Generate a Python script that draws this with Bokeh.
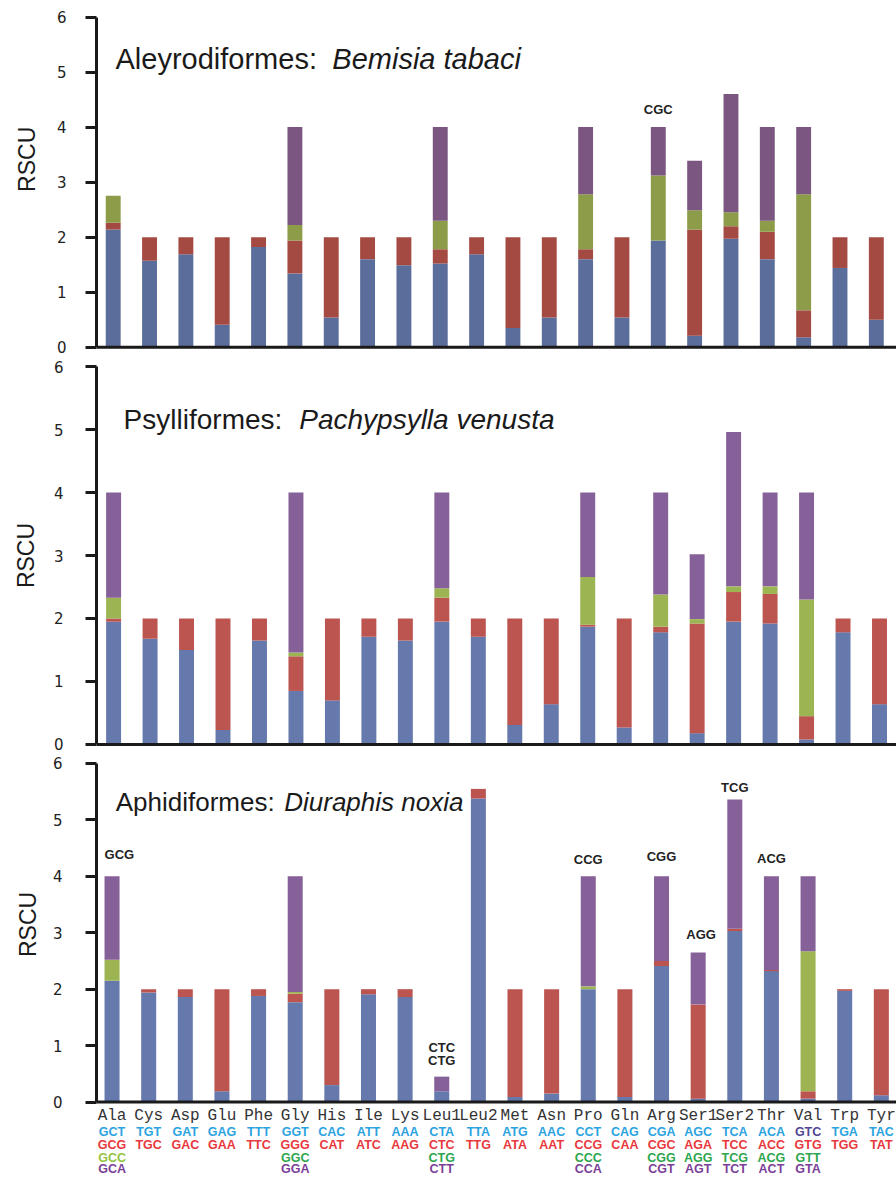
import numpy as np
from bokeh.plotting import figure
from bokeh.layouts import column
from bokeh.models import Range1d, FixedTicker, Span, ColumnDataSource
from bokeh.core.properties import value
from bokeh.embed import file_html
from bokeh.resources import INLINE

# ---------------- data ----------------
amino = ["Ala", "Cys", "Asp", "Glu", "Phe", "Gly", "His", "Ile", "Lys", "Leu1", "Leu2",
         "Met", "Asn", "Pro", "Gln", "Arg", "Ser1", "Ser2", "Thr", "Val", "Trp", "Tyr"]

codon_row1 = ["GCT", "TGT", "GAT", "GAG", "TTT", "GGT", "CAC", "ATT", "AAA", "CTA", "TTA",
              "ATG", "AAC", "CCT", "CAG", "CGA", "AGC", "TCA", "ACA", "GTC", "TGA", "TAC"]
codon_row2 = ["GCG", "TGC", "GAC", "GAA", "TTC", "GGG", "CAT", "ATC", "AAG", "CTC", "TTG",
              "ATA", "AAT", "CCG", "CAA", "CGC", "AGA", "TCC", "ACC", "GTG", "TGG", "TAT"]
codon_row3 = ["GCC", "", "", "", "", "GGC", "", "", "", "CTG", "",
              "", "", "CCC", "", "CGG", "AGG", "TCG", "ACG", "GTT", "", ""]
codon_row4 = ["GCA", "", "", "", "", "GGA", "", "", "", "CTT", "",
              "", "", "CCA", "", "CGT", "AGT", "TCT", "ACT", "GTA", "", ""]

# Aleyrodiformes: Bemisia tabaci  (codon 1..4 of each amino acid)
bt_c1 = [2.14, 1.57, 1.69, 0.41, 1.82, 1.34, 0.54, 1.60, 1.49, 1.52, 1.69,
         0.35, 0.54, 1.60, 0.54, 1.94, 0.21, 1.97, 1.60, 0.18, 1.44, 0.50]
bt_c2 = [0.12, 0.43, 0.31, 1.59, 0.18, 0.60, 1.46, 0.40, 0.51, 0.26, 0.31,
         1.65, 1.46, 0.18, 1.46, 0.00, 1.93, 0.23, 0.50, 0.49, 0.56, 1.50]
bt_c3 = [0.49, 0, 0, 0, 0, 0.28, 0, 0, 0, 0.52, 0,
         0, 0, 1.00, 0, 1.18, 0.35, 0.25, 0.20, 2.11, 0, 0]
bt_c4 = [0, 0, 0, 0, 0, 1.78, 0, 0, 0, 1.70, 0,
         0, 0, 1.22, 0, 0.88, 0.90, 2.15, 1.70, 1.22, 0, 0]

# Psylliformes: Pachypsylla venusta
pv_c1 = [1.95, 1.68, 1.50, 0.23, 1.65, 0.85, 0.70, 1.71, 1.65, 1.95, 1.71,
         0.31, 0.64, 1.87, 0.27, 1.78, 0.18, 1.95, 1.92, 0.08, 1.78, 0.64]
pv_c2 = [0.05, 0.32, 0.50, 1.77, 0.35, 0.55, 1.30, 0.29, 0.35, 0.38, 0.29,
         1.69, 1.36, 0.03, 1.73, 0.09, 1.74, 0.47, 0.47, 0.37, 0.22, 1.36]
pv_c3 = [0.33, 0, 0, 0, 0, 0.06, 0, 0, 0, 0.15, 0,
         0, 0, 0.76, 0, 0.51, 0.07, 0.09, 0.12, 1.85, 0, 0]
pv_c4 = [1.67, 0, 0, 0, 0, 2.54, 0, 0, 0, 1.52, 0,
         0, 0, 1.34, 0, 1.62, 1.03, 2.45, 1.49, 1.70, 0, 0]

# Aphidiformes: Diuraphis noxia
dn_c1 = [2.15, 1.94, 1.86, 0.19, 1.88, 1.77, 0.30, 1.91, 1.86, 0.19, 5.38,
         0.09, 0.15, 2.00, 0.09, 2.41, 0.06, 3.03, 2.32, 0.06, 1.97, 0.12]
dn_c2 = [0.00, 0.06, 0.14, 1.81, 0.12, 0.15, 1.70, 0.09, 0.14, 0.00, 0.17,
         1.91, 1.85, 0.00, 1.91, 0.09, 1.67, 0.04, 0.02, 0.13, 0.03, 1.88]
dn_c3 = [0.37, 0, 0, 0, 0, 0.03, 0, 0, 0, 0, 0,
         0, 0, 0.05, 0, 0, 0, 0, 0, 2.48, 0, 0]
dn_c4 = [1.48, 0, 0, 0, 0, 2.05, 0, 0, 0, 0.26, 0,
         0, 0, 1.95, 0, 1.50, 0.92, 2.29, 1.66, 1.33, 0, 0]

# absent-codon notes
bt_notes = ["CGC"]
bt_note_aa = ["Arg"]
bt_note_y = [4.19]
dn_notes = ["GCG", "CTC", "CTG", "CCG", "CGG", "AGG", "TCG", "ACG"]
dn_note_aa = ["Ala", "Leu1", "Leu1", "Pro", "Arg", "Ser1", "Ser2", "Thr"]
dn_note_y = [4.26, 0.84, 0.61, 4.16, 4.22, 2.83, 5.44, 4.19]

# ---------------- styling ----------------
W = 896
dark_cols = ["#5B6D9A", "#A54A43", "#8C9C48", "#7A5681"]
light_cols = ["#6679AD", "#BC5450", "#9CB452", "#866199"]
AXIS_COL = "#1a1a1a"
TXT_COL = "#1a1a1a"
NB = "\u00a0"

xs = list(range(len(amino)))


def make_panel(c1, c2, c3, c4, cols, height, left, xr, yr, tick_standoff,
               tnorm, tital, tpos, tsize, rscu_pad, rscu_standoff,
               notes=None, note_aa=None, note_y=None, note_dx=None):
    p = figure(width=W, height=height, output_backend="svg", toolbar_location=None,
               title=None, x_axis_location=None, y_axis_location="left",
               x_range=Range1d(*xr), y_range=Range1d(*yr),
               min_border_left=left, min_border_right=0,
               min_border_top=0, min_border_bottom=0)
    p.outline_line_color = None
    p.grid.visible = False
    p.background_fill_color = "white"
    p.border_fill_color = "white"

    src = ColumnDataSource(dict(x=xs, c1=c1, c2=c2, c3=c3, c4=c4))
    p.vbar_stack(["c1", "c2", "c3", "c4"], x="x", width=0.41, source=src,
                 fill_color=cols, line_color=None)

    ax = p.yaxis[0]
    ax.ticker = FixedTicker(ticks=[0, 1, 2, 3, 4, 5, 6])
    ax.bounds = (0, 6)
    ax.axis_line_width = 3
    ax.axis_line_color = AXIS_COL
    ax.major_tick_line_width = 3
    ax.major_tick_line_color = AXIS_COL
    ax.major_tick_out = 11
    ax.major_tick_in = 0
    ax.minor_tick_out = 0
    ax.minor_tick_in = 0
    ax.major_label_standoff = tick_standoff
    ax.major_label_text_font = "DejaVu Sans"
    ax.major_label_text_font_size = "15px"
    ax.major_label_text_color = "#222222"
    ax.axis_label = NB * rscu_pad + "RSCU"
    ax.axis_label_text_font = "Liberation Sans"
    ax.axis_label_text_font_size = "23px"
    ax.axis_label_text_font_style = "normal"
    ax.axis_label_text_color = TXT_COL
    ax.axis_label_standoff = rscu_standoff

    p.add_layout(Span(location=0, dimension="width", line_color=AXIS_COL, line_width=3))

    # title: order name + italic species name
    p.text(x=[tpos[0]], y=[tpos[2]], text=[tnorm], text_font=value("Liberation Sans"),
           text_font_size=tsize, text_baseline="alphabetic", text_align="left",
           text_color=TXT_COL)
    p.text(x=[tpos[1]], y=[tpos[2]], text=[tital], text_font=value("Liberation Sans"),
           text_font_size=tsize, text_font_style="italic", text_baseline="alphabetic",
           text_align="left", text_color=TXT_COL)

    if notes:
        nx = [amino.index(a) + (note_dx[i] if note_dx else 0) for i, a in enumerate(note_aa)]
        p.text(x=nx, y=note_y, text=notes, text_font=value("Liberation Sans"),
               text_font_size="13px", text_font_style="bold", text_align="center",
               text_baseline="bottom", text_color="#222222")
    return p


p1 = make_panel(bt_c1, bt_c2, bt_c3, bt_c4, dark_cols, 356, 96,
                (-0.4596, 21.555), (-0.169, 6.300), 19,
                "Aleyrodiformes:", "Bemisia tabaci", (0.063, 6.03, 5.23), "29px",
                6, 14, bt_notes, bt_note_aa, bt_note_y)

p2 = make_panel(pv_c1, pv_c2, pv_c3, pv_c4, light_cols, 398, 91,
                (-0.4687, 21.466), (-0.159, 6.159), 22,
                "Psylliformes:", "Pachypsylla venusta", (0.275, 5.09, 5.154), "28px",
                0, 12)

p3 = make_panel(dn_c1, dn_c2, dn_c3, dn_c4, light_cols, 423, 88,
                (-0.4243, 21.414), (-1.338, 6.1595), 23,
                "Aphidiformes:", "Diuraphis noxia", (0.10, 4.70, 5.314), "26px",
                13, 9, dn_notes, dn_note_aa, dn_note_y,
                [0.2, 0, 0, 0, 0, 0.08, 0, 0])

# ---------------- amino acid / codon table under the bottom panel ----------------
p3.text(x=xs, y=[-0.252] * len(xs), text=amino, text_font=value("Liberation Mono"),
        text_font_size="16px", text_align="center", text_baseline="middle",
        text_color="#333333")

row_cols1 = ["#2BA3E0"] * len(xs)
row_cols1[amino.index("Val")] = "#514795"
row_cols3 = ["#2DA64E"] * len(xs)
row_cols3[amino.index("Ala")] = "#94C440"
rows = [(codon_row1, row_cols1, -0.523), (codon_row2, ["#E8383D"] * len(xs), -0.759),
        (codon_row3, row_cols3, -0.984), (codon_row4, ["#7B3F98"] * len(xs), -1.196)]
for texts, cols, yy in rows:
    p3.text(x=xs, y=[yy] * len(xs), text=texts, text_color=cols,
            text_font=value("Liberation Sans"), text_font_size="12.5px",
            text_font_style="bold", text_align="center", text_baseline="middle")

layout = column(p1, p2, p3, spacing=0)
open("out.html", "w").write(file_html(layout, INLINE))
